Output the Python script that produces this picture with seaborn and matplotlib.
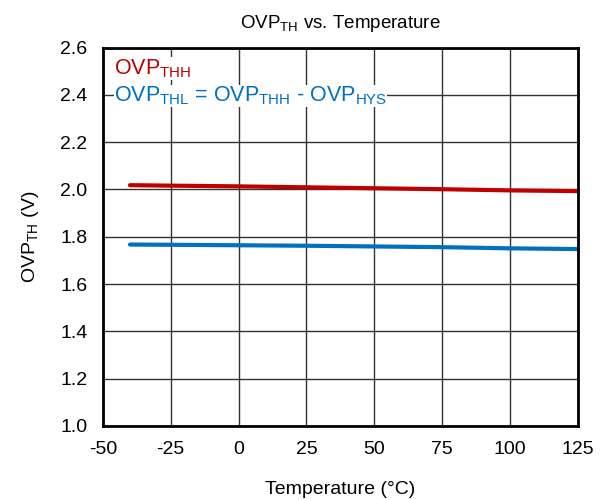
import seaborn as sns
import pandas as pd
import numpy as np
import matplotlib.pyplot as plt

temps = [-40, -25, 0, 25, 50, 75, 100, 125]
ovp_thh = [2.018, 2.016, 2.013, 2.009, 2.005, 2.001, 1.996, 1.993]
ovp_thl = [1.767, 1.766, 1.764, 1.762, 1.759, 1.756, 1.751, 1.748]

sns.set_style("white")
plt.rcParams['font.family'] = ['Liberation Sans', 'DejaVu Sans']
plt.rcParams['mathtext.fontset'] = 'custom'
plt.rcParams['mathtext.rm'] = 'Liberation Sans'
plt.rcParams['axes.unicode_minus'] = False
plt.rcParams['text.color'] = 'black'
plt.rcParams['axes.labelcolor'] = 'black'
plt.rcParams['xtick.color'] = 'black'
plt.rcParams['ytick.color'] = 'black'

df = pd.DataFrame({'temp': temps, 'thh': ovp_thh, 'thl': ovp_thl})

fig, ax = plt.subplots(figsize=(6.05, 5), dpi=100)
fig.subplots_adjust(left=0.17, right=0.955, top=0.905, bottom=0.148)

sns.lineplot(data=df, x='temp', y='thh', color='#C00000', lw=3, ax=ax)
sns.lineplot(data=df, x='temp', y='thl', color='#0070C0', lw=3, ax=ax)

ax.set_xlim(-50, 125)
ax.set_ylim(1.0, 2.6)
ax.set_xticks(np.arange(-50, 126, 25))
ax.set_yticks(np.arange(1.0, 2.61, 0.2))
ax.set_yticklabels([f'{v:.1f}' for v in np.arange(1.0, 2.61, 0.2)])
ax.grid(True, color='#333333', lw=1)
ax.tick_params(labelsize=14, length=0, pad=11)
for s in ax.spines.values():
    s.set_linewidth(2)
    s.set_color('black')

ax.set_title(r'OVP$_{\mathrm{TH}}$ vs. Temperature', fontsize=13.5, pad=14)
ax.set_xlabel('Temperature (°C)', fontsize=14, labelpad=16)
ax.set_ylabel(r'OVP$_{\mathrm{TH}}$ (V)', fontsize=14, labelpad=14)

ax.text(-46, 2.51, r'OVP$_{\mathrm{THH}}$', color='#C00000', fontsize=15.5,
        va='center', ha='left', bbox=dict(facecolor='white', edgecolor='none', pad=0))
ax.text(-46, 2.395,
        r'OVP$_{\mathrm{THL}}$ = OVP$_{\mathrm{THH}}$ - OVP$_{\mathrm{HYS}}$',
        color='#0070C0', fontsize=15.5, va='center', ha='left',
        bbox=dict(facecolor='white', edgecolor='none', pad=0))

plt.savefig('out.png', dpi=100)
